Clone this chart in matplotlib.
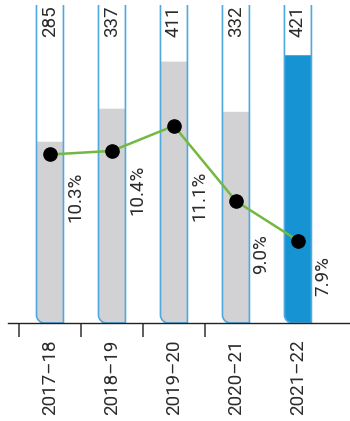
import numpy as np
import matplotlib
matplotlib.use("Agg")
import matplotlib.pyplot as plt
from matplotlib.path import Path
from matplotlib.patches import PathPatch

plt.rcParams['font.family'] = ['Roboto', 'DejaVu Sans']

years = ["2017–18", "2018–19", "2019–20", "2020–21", "2021–22"]
counts = [285, 337, 411, 332, 421]
shares = [10.3, 10.4, 11.1, 9.0, 7.9]
share_labels = ["10.3%", "10.4%", "11.1%", "9.0%", "7.9%"]

# layout / style
cap = 500          # height of the open "tube" outlines
bar_w = 0.435
label_drop = [12, 10, 32, 24, 11]   # points below each dot for the % label
grey = "#d2d2d4"
blue_fill = "#1593d2"
edge = "#4fa9df"
green = "#74b843"
txt = "#2a2a2a"


def tube_path(x0, x1, top, rx, ry, closed):
    # bar with rounded bottom-left corner
    k = 0.5523
    verts = [(x0, top), (x0, ry),
             (x0, ry * (1 - k)), (x0 + rx * (1 - k), 0), (x0 + rx, 0),
             (x1, 0), (x1, top)]
    codes = [Path.MOVETO, Path.LINETO,
             Path.CURVE4, Path.CURVE4, Path.CURVE4,
             Path.LINETO, Path.LINETO]
    if closed:
        verts.append((x0, top))
        codes.append(Path.CLOSEPOLY)
    return Path(verts, codes)


fig = plt.figure(figsize=(3.5, 4.21), dpi=100)
ax = fig.add_axes([8 / 350, 98 / 421, 342 / 350, 318 / 421])
ax.set_xlim(-0.677, 4.84)
ax.set_ylim(0, cap)

# radius ~8px converted to data units
rx = 8 / 62.1
ry = 8 / (318 / cap)

x = np.arange(len(years))
for i, v in enumerate(counts):
    x0, x1 = x[i] - bar_w / 2, x[i] + bar_w / 2
    fc = blue_fill if i == len(counts) - 1 else grey
    ax.add_patch(PathPatch(tube_path(x0, x1, v, rx, ry, True), fc=fc, ec="none", zorder=1))
    ax.add_patch(PathPatch(tube_path(x0, x1, cap, rx, ry, False), fc="none",
                           ec=edge, lw=1.2, zorder=2))
    ax.text(x[i], cap - 1, str(v), rotation=90, ha="center", va="top",
            fontsize=13.5, color=txt, zorder=3)

for s in ["top", "left", "right"]:
    ax.spines[s].set_visible(False)
ax.spines["bottom"].set_linewidth(1.0)
ax.spines["bottom"].set_color("#222222")
ax.set_yticks([])
ax.set_xticks(x)
ax.set_xticklabels(years, rotation=90, fontsize=13.5, color=txt)
ax.tick_params(axis="x", which="major", length=0, pad=12)
ax.set_xticks(x[:-1] - 0.5, minor=True)
ax.tick_params(axis="x", which="minor", length=10, width=1.1, color="#333333")

ax2 = ax.twinx()
ax2.set_ylim(5.6, 14.47)
ax2.axis("off")
ax2.plot(x, shares, color=green, lw=1.8, zorder=4)
ax2.plot(x, shares, "o", color="black", ms=9.5, zorder=5)
for i, p in enumerate(shares):
    ax2.annotate(share_labels[i], (x[i] + 0.41, p), xytext=(0, -label_drop[i]),
                 textcoords="offset points", rotation=90, ha="center", va="top",
                 fontsize=13.5, color=txt)

fig.savefig("out.png", dpi=100)
